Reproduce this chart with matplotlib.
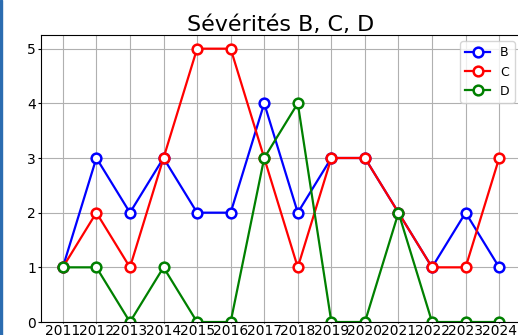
import matplotlib
matplotlib.use("Agg")
import matplotlib.pyplot as plt
from matplotlib.patches import Rectangle

years = list(range(2011, 2025))
sev_b = [1, 3, 2, 3, 2, 2, 4, 2, 3, 3, 2, 1, 2, 1]
sev_c = [1, 2, 1, 3, 5, 5, 3, 1, 3, 3, 2, 1, 1, 3]
sev_d = [1, 1, 0, 1, 0, 0, 3, 4, 0, 0, 2, 0, 0, 0]

W, H = 518, 335
fig = plt.figure(figsize=(W / 100, H / 100), dpi=100)
ax = fig.add_axes([41 / W, 13 / H, 480 / W, 287 / H])

style = dict(marker="o", markersize=7, markerfacecolor="white",
             markeredgewidth=1.8, linewidth=1.6)
ax.plot(years, sev_b, color="blue", label="B", **style)
ax.plot(years, sev_c, color="red", label="C", **style)
ax.plot(years, sev_d, color="green", label="D", **style)

ax.set_xticks(years)
ax.set_xticklabels([str(y) for y in years])
ax.set_ylim(0, 5.25)
ax.set_yticks(range(6))
ax.tick_params(labelsize=10)
ax.tick_params(axis="y", length=2.5, pad=1)
ax.tick_params(axis="x", length=1, pad=0.3)
ax.grid(True, color="#b0b0b0", linewidth=0.8)
ax.set_title("Sévérités B, C, D", fontsize=16, pad=3)
ax.legend(loc="upper right", fontsize=9)

# thin blue frame on the left edge
fig.patches.append(Rectangle((0, 0), 2 / W, 1, transform=fig.transFigure,
                             color="#2b6cb0", zorder=10))

fig.savefig("out.png", dpi=100)
